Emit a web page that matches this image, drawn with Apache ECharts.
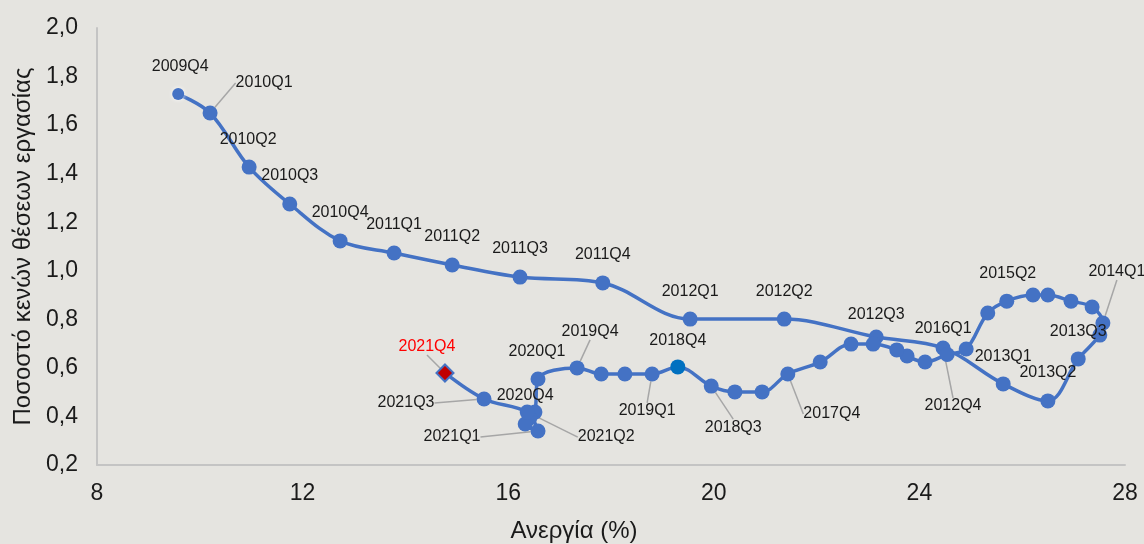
<!DOCTYPE html>
<html>
<head>
<meta charset="utf-8">
<title>Beveridge</title>
<script src="https://cdn.jsdelivr.net/npm/echarts@6/dist/echarts.min.js"></script>
<style>
  html, body { margin: 0; padding: 0; background: #e5e4e0; }
  #chartWrap { width: 1144px; height: 544px; }
</style>
</head>
<body>
<div id="chartWrap"></div>
<script>
// quarters, unemployment (%), vacancy rate (%)
var quarters = [
  '2009Q4', '2010Q1', '2010Q2', '2010Q3', '2010Q4', '2011Q1', '2011Q2', '2011Q3', '2011Q4',
  '2012Q1', '2012Q2', '2012Q3', '2012Q4', '2013Q1', '2013Q2', '2013Q3', '2013Q4',
  '2014Q1', '2014Q2', '2014Q3', '2014Q4', '2015Q1', '2015Q2', '2015Q3', '2015Q4',
  '2016Q1', '2016Q2', '2016Q3', '2016Q4', '2017Q1', '2017Q2', '2017Q3', '2017Q4',
  '2018Q1', '2018Q2', '2018Q3', '2018Q4', '2019Q1', '2019Q2', '2019Q3', '2019Q4',
  '2020Q1', '2020Q2', '2020Q3', '2020Q4', '2021Q1', '2021Q2', '2021Q3', '2021Q4'
];
var unemployment = [
  9.58, 10.20, 10.96, 11.75, 12.73, 13.78, 14.91, 16.23, 17.84,
  19.54, 21.37, 23.16, 24.46, 25.63, 26.50, 27.09, 27.51,
  27.57, 27.36, 26.95, 26.50, 26.21, 25.70, 25.33, 24.91,
  24.54, 24.11, 23.76, 23.56, 23.10, 22.67, 22.07, 21.44,
  20.94, 20.41, 19.95, 19.30, 18.80, 18.27, 17.81, 17.34,
  16.58, 16.52, 16.42, 16.33, 16.58, 16.37, 15.53, 14.77
];
var vacancies = [
  1.728, 1.650, 1.427, 1.275, 1.123, 1.073, 1.024, 0.974, 0.950,
  0.801, 0.801, 0.727, 0.682, 0.534, 0.464, 0.637, 0.735,
  0.785, 0.851, 0.875, 0.900, 0.900, 0.875, 0.826, 0.678,
  0.655, 0.624, 0.649, 0.674, 0.698, 0.698, 0.624, 0.575,
  0.501, 0.501, 0.525, 0.604, 0.575, 0.575, 0.575, 0.600,
  0.554, 0.418, 0.394, 0.369, 0.340, 0.418, 0.472, 0.579
];
var xTicks = [8, 12, 16, 20, 24, 28];
var yTicks = [0.2, 0.4, 0.6, 0.8, 1.0, 1.2, 1.4, 1.6, 1.8, 2.0];

// label placement: offset of text centre from the point, and whether a leader line is drawn
var labelOffset = {
  '2009Q4': [2, -27, 0], '2010Q1': [54, -30, 1], '2010Q2': [-1, -28, 0], '2010Q3': [0, -28, 0],
  '2010Q4': [0, -28, 0], '2011Q1': [0, -28, 0], '2011Q2': [0, -28, 0], '2011Q3': [0, -28, 0],
  '2011Q4': [0, -28, 0], '2012Q1': [0, -27, 0], '2012Q2': [0, -27, 0], '2012Q3': [0, -22, 0],
  '2012Q4': [10, 58, 1], '2013Q1': [0, -27, 0], '2013Q2': [0, -28, 0], '2013Q3': [0, -27, 0],
  '2014Q1': [14, -51, 1], '2015Q2': [1, -28, 0], '2016Q1': [-4, -26, 0], '2017Q4': [44, 40, 1],
  '2018Q3': [22, 41, 1], '2018Q4': [0, -26, 0], '2019Q1': [-5, 37, 1], '2019Q4': [13, -36, 1],
  '2020Q1': [-1, -27, 0], '2020Q4': [0, -28, 0], '2021Q1': [-86, 6, 1], '2021Q2': [79, 25, 1],
  '2021Q3': [-78, 4, 1], '2021Q4': [-18, -26, 1]
};

var BLUE = '#4472c4';

var seriesData = quarters.map(function (q, i) {
  var item = { value: [unemployment[i], vacancies[i]] };
  var o = labelOffset[q];
  if (o) {
    item.label = { show: true, formatter: q };
    if (o[2]) item.labelLine = { show: true };
  }
  if (q == '2009Q4') {
    item.symbolSize = 12;
    item.itemStyle = { color: BLUE, shadowBlur: 4, shadowColor: 'rgba(255,255,255,0.9)' };
  }
  if (q == '2018Q4') {
    item.itemStyle = { color: '#0070c0' };
  }
  if (q == '2021Q4') {
    item.symbol = 'diamond';
    item.symbolSize = 17;
    item.itemStyle = { color: '#c00000', borderColor: BLUE, borderWidth: 2 };
    item.label.color = '#ff0000';
  }
  return item;
});

var myChart = echarts.init(document.getElementById('chartWrap'));
myChart.setOption({
  backgroundColor: '#e5e4e0',
  animation: false,
  grid: { left: 97, right: 19, top: 28, bottom: 79, outerBoundsMode: 'none' },
  xAxis: {
    type: 'value',
    min: xTicks[0],
    max: xTicks[xTicks.length - 1],
    interval: 4,
    name: 'Ανεργία (%)',
    nameLocation: 'middle',
    nameGap: 54,
    nameTextStyle: { fontFamily: 'Liberation Sans', fontSize: 24, color: '#1a1a1a', padding: [0, 74, 0, 0] },
    axisLine: { lineStyle: { color: '#c4c4c4', width: 2 } },
    axisTick: { show: false },
    splitLine: { show: false },
    axisLabel: { fontFamily: 'Liberation Sans', fontSize: 23, color: '#1a1a1a', margin: 17 }
  },
  yAxis: {
    type: 'value',
    min: yTicks[0],
    max: yTicks[yTicks.length - 1],
    interval: 0.2,
    name: 'Ποσοστό κενών θέσεων εργασίας',
    nameLocation: 'middle',
    nameGap: 60,
    nameTextStyle: { fontFamily: 'Liberation Sans', fontSize: 24, color: '#1a1a1a' },
    axisLine: { show: true, lineStyle: { color: '#c4c4c4', width: 2 } },
    axisTick: { show: false },
    splitLine: { show: false },
    axisLabel: {
      fontFamily: 'Liberation Sans', fontSize: 23, color: '#1a1a1a', margin: 19,
      formatter: function (v) { return v.toFixed(1).replace('.', ','); }
    }
  },
  series: [{
    type: 'line',
    data: seriesData,
    smooth: 0.35,
    showAllSymbol: true,
    symbol: 'circle',
    symbolSize: 15,
    lineStyle: { color: BLUE, width: 3.5 },
    itemStyle: { color: BLUE },
    label: {
      show: false,
      fontFamily: 'Liberation Sans',
      fontSize: 16,
      color: '#1a1a1a'
    },
    labelLine: { show: false, lineStyle: { color: '#a6a6a6', width: 1.5 } },
    labelLayout: function (p) {
      var o = labelOffset[quarters[p.dataIndex]];
      if (!o) return {};
      return {
        x: p.rect.x + p.rect.width / 2 + o[0],
        y: p.rect.y + p.rect.height / 2 + o[1],
        align: 'center',
        verticalAlign: 'middle'
      };
    },
    emphasis: { disabled: true }
  }]
});
</script>
</body>
</html>
